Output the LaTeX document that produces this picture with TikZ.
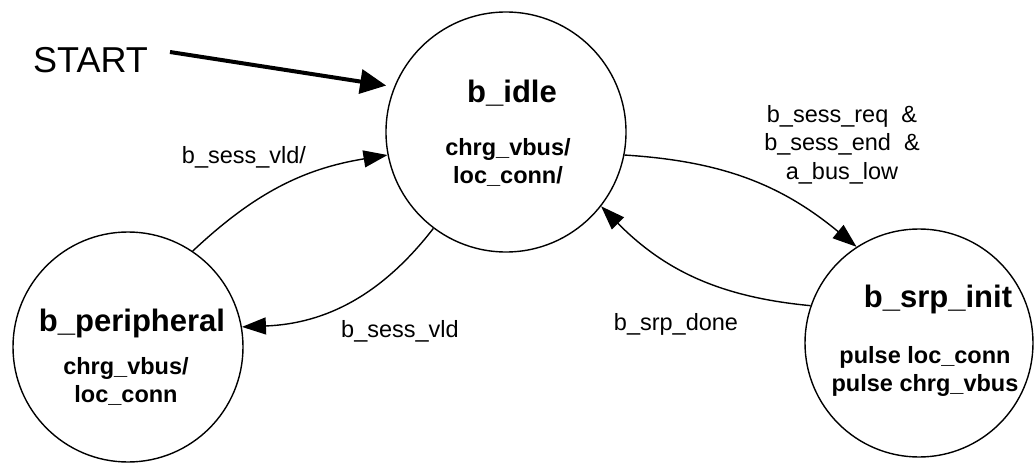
\documentclass[tikz,border=0pt]{standalone}
\usepackage{fontspec}
\setmainfont{Liberation Sans}
\usetikzlibrary{arrows.meta}
\begin{document}
\begin{tikzpicture}[x=1pt,y=-1pt,
  state/.style={draw, circle, line width=1.4pt, inner sep=0pt},
  sname/.style={font=\bfseries\fontsize{31}{36}\selectfont, anchor=base, inner sep=0pt},
  sbody/.style={font=\bfseries\fontsize{23.5}{28}\selectfont, anchor=base, align=center, inner sep=0pt},
  elabel/.style={font=\fontsize{23.5}{28.5}\selectfont, anchor=base, align=center, inner sep=0pt},
  trans/.style={line width=1.4pt, -{Triangle[length=24pt,width=17pt]}},
  startarrow/.style={line width=4pt, -{Triangle[length=26pt,width=24pt]}},
]
\useasboundingbox (0,0) rectangle (1034,463);
% states
\node[state, minimum size=240pt] (idle) at (506,132) {};
\node[state, minimum size=230pt] (per) at (128,347) {};
\node[state, minimum size=228pt] (srp) at (919,343) {};
% state texts
\node[sname] (idlename) at (512,102) {b\_idle};
\node[sbody] (idlebody) at (508,183) {chrg\_vbus/\\loc\_conn/};
\node[sname] (pername) at (132,331) {b\_peripheral};
\node[sbody] (perbody) at (126,402) {chrg\_vbus/\\loc\_conn};
\node[sname] (srpname) at (938,307) {b\_srp\_init};
\node[sbody] (srpbody) at (925,391) {pulse loc\_conn\\pulse chrg\_vbus};
% start
\node[font=\fontsize{36}{40}\selectfont, anchor=base, inner sep=0pt] (start) at (90.5,72) {START};
\coordinate (s0) at (170,52);
\draw[startarrow, shorten >=8pt] (s0) -- (idle.158);
% transitions
\draw[trans] (per.56) to[bend left=17] (idle.191);
\draw[trans] (idle.233) to[bend left=25] (per.10);
\draw[trans] (idle.349) to[bend left=18] (srp.123);
\draw[trans] (srp.161) to[bend left=20] (idle.322);
% labels
\node[elabel] (l1) at (244,163) {b\_sess\_vld/};
\node[elabel] (l2) at (400,337) {b\_sess\_vld};
\node[elabel] (l3) at (676,330) {b\_srp\_done};
\node[elabel] (l4) at (842,179) {b\_sess\_req~~\&\\b\_sess\_end~~\&\\a\_bus\_low};
\end{tikzpicture}
\end{document}
